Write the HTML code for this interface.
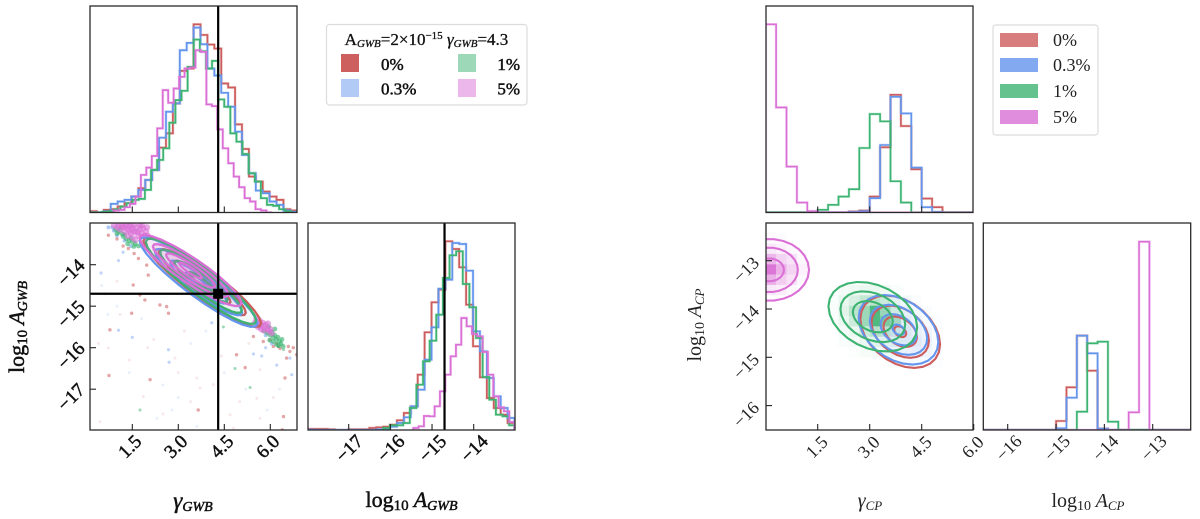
<!DOCTYPE html>
<html lang="en">
<head>
<meta charset="utf-8">
<title>GWB and CP posterior corner plots</title>
<style>
html,body{margin:0;padding:0;background:#fff;width:1200px;height:519px;overflow:hidden}
svg{display:block;font-family:"Liberation Serif",serif}
.heavy{fill:#111;stroke:#111;stroke-width:.5px}
.light{fill:#222}
</style>
</head>
<body>
<svg id="chart" xmlns="http://www.w3.org/2000/svg" width="1200" height="519" viewBox="0 0 1200 519">
<rect width="1200" height="519" fill="#fff"/>
<defs id="defs"></defs>
<g id="plots"></g>

<text class="heavy" x="193" y="508" text-anchor="middle" font-size="23" font-style="italic">γ<tspan font-size="14" dy="3">GWB</tspan></text>
<text class="heavy" transform="translate(24,327) rotate(-90)" text-anchor="middle" font-size="22">log<tspan font-size="15" dy="3">10</tspan><tspan font-style="italic" dy="-3"> A</tspan><tspan font-style="italic" font-size="14" dy="3">GWB</tspan></text>
<text class="heavy" x="411.5" y="507" text-anchor="middle" font-size="22">log<tspan font-size="15" dy="3">10</tspan><tspan font-style="italic" dy="-3"> A</tspan><tspan font-style="italic" font-size="14" dy="3">GWB</tspan></text>
<text class="light" x="870" y="507" text-anchor="middle" font-size="20" font-style="italic">γ<tspan font-size="13" dy="3">CP</tspan></text>
<text class="light" transform="translate(701,325) rotate(-90)" text-anchor="middle" font-size="20">log<tspan font-size="14" dy="3">10</tspan><tspan font-style="italic" dy="-3"> A</tspan><tspan font-style="italic" font-size="13" dy="3">CP</tspan></text>
<text class="light" x="1088" y="507" text-anchor="middle" font-size="20">log<tspan font-size="14" dy="3">10</tspan><tspan font-style="italic" dy="-3"> A</tspan><tspan font-style="italic" font-size="13" dy="3">CP</tspan></text>

<g>
<rect x="326.5" y="24.5" width="200.5" height="80.5" rx="3" fill="#fff" stroke="#dcdcdc" stroke-width="1.2"/>
<text class="heavy" x="426.5" y="45" text-anchor="middle" font-size="17" style="stroke-width:.3px">A<tspan font-style="italic" font-size="11" dy="2">GWB</tspan><tspan dy="-2">=2×10</tspan><tspan font-size="11" dy="-6">−15</tspan><tspan font-style="italic" dy="6"> γ</tspan><tspan font-style="italic" font-size="11" dy="2">GWB</tspan><tspan dy="-2">=4.3</tspan></text>
<rect x="341" y="54" width="18" height="18" fill="#cd5c5c" fill-opacity=".98"/>
<rect x="341" y="79" width="18" height="18" fill="#6495ed" fill-opacity=".5"/>
<rect x="458" y="54" width="18" height="18" fill="#3cb371" fill-opacity=".5"/>
<rect x="458" y="79" width="18" height="18" fill="#da70d6" fill-opacity=".5"/>
<text class="heavy" x="381" y="70" font-size="17">0%</text>
<text class="heavy" x="381" y="94.5" font-size="17">0.3%</text>
<text class="heavy" x="520" y="70" text-anchor="end" font-size="17">1%</text>
<text class="heavy" x="520" y="94.5" text-anchor="end" font-size="17">5%</text>
</g>

<g>
<rect x="993" y="25" width="105" height="110" rx="3" fill="#fff" stroke="#dcdcdc" stroke-width="1.2"/>
<rect x="1000" y="33" width="38" height="14" fill="#cd5c5c" fill-opacity=".8"/>
<rect x="1000" y="58" width="38" height="14" fill="#6495ed" fill-opacity=".8"/>
<rect x="1000" y="84" width="38" height="14" fill="#3cb371" fill-opacity=".8"/>
<rect x="1000" y="110" width="38" height="14" fill="#da70d6" fill-opacity=".8"/>
<text class="light" x="1053" y="46" font-size="18">0%</text>
<text class="light" x="1053" y="71" font-size="18">0.3%</text>
<text class="light" x="1053" y="97" font-size="18">1%</text>
<text class="light" x="1053" y="123" font-size="18">5%</text>
</g>
</svg>

<script>
// ---- series colours ----
const RED = '#cd5c5c', BLUE = '#6495ed', GREEN = '#3cb371', PINK = '#da70d6';

// ---- tick labels ----
const gammaTicksLeft = [1.5, 3.0, 4.5, 6.0];
const logTicksLeft = [-14, -15, -16, -17];
const logTicksMiddle = [-17, -16, -15, -14];
const gammaTicksRight = [1.5, 3.0, 4.5, 6.0];
const logTicksRight = [-13, -14, -15, -16];
const logTicksCorner = [-16, -15, -14, -13];

// ---- injected truth ----
const truthGamma = 4.3;
const truthLogA = -14.7;

// ---- GWB gamma histograms (first bin edge, bin width, counts) ----
const gwbGammaRedStart = 0.12, gwbGammaRedWidth = 0.2253;
const gwbGammaRed = [4,0,8,10,18,28,48,73,98,128,195,238,328,426,433,566,534,505,493,388,376,265,191,108,93,63,48,38,10,6];
const gwbGammaBlueStart = 0.12, gwbGammaBlueWidth = 0.2253;
const gwbGammaBlue = [0,0,4,26,33,38,48,68,98,128,225,303,328,488,510,556,506,433,412,360,318,243,173,118,66,58,33,23,6,2];
const gwbGammaGreenStart = 0.12, gwbGammaGreenWidth = 0.199;
const gwbGammaGreen = [0,0,2,4,10,18,28,38,41,68,128,158,193,270,338,366,438,520,485,433,456,340,318,238,213,176,118,93,43,23,20,10,3];
const gwbGammaPinkStart = 0.89, gwbGammaPinkWidth = 0.178;
const gwbGammaPink = [6,8,16,26,48,113,135,170,253,368,330,373,408,433,436,488,483,325,320,250,193,148,108,76,43,33,10,6,0];

// ---- GWB log-amplitude histograms ----
const gwbLogRedStart = -18, gwbLogRedWidth = 0.166;
const gwbLogRed = [3,3,3,2,0,0,2,2,2,6,8,10,16,29,51,71,166,293,383,421,566,543,488,376,251,158,96,66,46,21];
const gwbLogBlueStart = -18, gwbLogBlueWidth = 0.166;
const gwbLogBlue = [1,0,0,0,0,0,0,0,0,0,2,4,10,21,38,71,121,211,308,424,451,561,558,478,296,236,156,101,66,36];
const gwbLogGreenStart = -16.17, gwbLogGreenWidth = 0.159;
const gwbLogGreen = [6,14,14,21,66,136,206,268,346,456,524,536,438,368,276,159,91,46,41,14];
const gwbLogPinkStart = -15.45, gwbLogPinkWidth = 0.128;
const gwbLogPink = [6,11,42,41,71,116,166,221,256,336,311,288,281,234,166,101,68,56,24];

// ---- CP gamma histograms ----
const cpGammaStart = 0, cpGammaWidth = 0.3;
const cpGammaRed = [0,0,0,0,0,0,0,0,3,6,48,196,354,260,130,42,16,0,0,0];
const cpGammaBlue = [0,0,0,0,0,0,0,0,2,4,43,203,348,298,135,16,2,0,0,0];
const cpGammaGreen = [0,0,0,0,0,8,23,48,70,194,296,274,94,30,0,0,0,0,0,0];
const cpGammaPink = [566,316,138,30,4,0,0,0,0,0,0,0,0,0,0,0,0,0,0,0];

// ---- CP log-amplitude histograms ----
const cpLogStart = -16.5, cpLogWidth = 0.2145;
const cpLogRed = [0,0,0,0,0,0,0,27,128,283,178,4,0,0,0,0,0,0,0,0];
const cpLogBlue = [0,0,0,0,0,0,0,5,97,283,230,4,0,0,0,0,0,0,0,0];
const cpLogGreen = [0,0,0,0,0,0,0,0,0,55,260,265,25,0,0,0,0,0,0,0];
const cpLogPink = [0,0,0,0,0,0,0,0,0,0,0,0,0,0,53,565,0,0,0,0];

// ---- GWB 2D contours: [centre gamma, centre logA, gamma extent, logA extent, correlation] ----
const gwbContourRed = [3.78, -14.42, 1.92, 1.08, -0.92];
const gwbContourBlue = [3.66, -14.42, 1.92, 1.08, -0.92];
const gwbContourGreen = [3.74, -14.40, 1.80, 1.03, -0.92];
const gwbContourPink = [3.40, -14.14, 1.66, 0.86, -0.91];
const gwbLevels = [1, 0.74, 0.48, 0.22];

// ---- CP 2D contours ----
const cpContourRed = [3.88, -14.47, 1.15, 0.75, -0.35];
const cpContourBlue = [3.83, -14.43, 1.15, 0.72, -0.35];
const cpContourGreen = [3.09, -14.16, 1.28, 0.72, -0.3];
const cpContourPink = [0.10, -13.19, 1.15, 0.64, 0];
const cpLevelsRed = [1, 0.72, 0.42, 0.15];
const cpLevelsBlue = [1, 0.72, 0.45, 0.15];
const cpLevelsGreen = [1, 0.73, 0.45];
const cpLevelsPink = [1, 0.72, 0.37];

// ---- GWB scatter samples [gamma, logA] ----
const scatterRed = [[0.72,-13.29],[1.37,-13.61],[1.56,-13.73],[1.70,-13.85],[1.97,-14.01],[2.02,-14.25],[1.53,-14.49],[1.91,-14.85],[1.48,-15.17],[2.68,-15.17],[0.77,-15.57],[0.74,-16.67],[2.08,-16.77],[3.65,-17.50],[5.18,-16.48],[6.43,-17.66],[6.39,-17.98],[4.90,-16.17],[6.10,-15.97],[6.26,-15.97],[6.59,-15.97],[6.64,-16.09],[6.86,-16.17],[6.53,-16.25],[5.99,-15.81],[5.77,-15.85],[5.45,-15.73],[6.48,-16.73],[2.62,-15.01],[2.40,-14.97],[1.75,-14.73],[1.0,-13.38],[1.2,-13.55],[6.20,-15.90],[6.32,-16.02],[6.75,-16.0]];
const scatterBlue = [[2.70,-16.35],[1.50,-15.75],[1.05,-15.58],[4.09,-15.40],[5.72,-16.20],[6.21,-16.42],[6.70,-16.65],[6.64,-16.25],[5.45,-16.15],[2.68,-16.05],[1.05,-13.9],[0.48,-14.2],[5.85,-16.0],[1.2,-13.7]];
const scatterGreen = [[5.34,-16.96],[4.85,-16.50],[6.43,-16.05],[6.26,-15.97],[4.47,-15.50],[1.59,-13.45],[1.21,-13.25],[1.75,-17.5]];
const scatterPink = [[0.9,-13.05],[1.0,-13.1],[1.05,-13.05],[1.1,-13.15],[1.15,-13.05],[1.2,-13.1],[1.25,-13.2],[1.3,-13.05],[1.35,-13.15],[1.4,-13.08],[1.45,-13.25],[1.5,-13.12],[1.55,-13.05],[1.6,-13.2],[1.65,-13.1],[1.7,-13.3],[1.75,-13.15],[1.8,-13.25],[1.85,-13.12],[1.9,-13.3],[1.35,-13.3],[1.5,-13.35],[1.6,-13.4],[1.45,-13.05],[1.75,-13.05],[1.95,-13.2],[2.0,-13.3],[1.25,-13.08],[1.55,-13.2],[1.68,-13.22],[1.82,-13.05],[1.98,-13.1],[1.42,-13.18],[5.55,-15.3],[5.6,-15.4],[5.65,-15.35],[5.7,-15.45],[5.75,-15.4],[5.8,-15.5],[5.85,-15.45],[5.9,-15.55],[5.95,-15.6],[6.0,-15.55],[5.7,-15.55],[5.6,-15.5],[6.05,-15.65],[5.78,-15.58],[5.92,-15.42],[5.5,-15.4]];
const scatterGreenDense = [[0.95,-13.15],[1.05,-13.2],[1.15,-13.25],[1.2,-13.32],[1.3,-13.38],[1.4,-13.42],[1.5,-13.45],[1.6,-13.5],[1.1,-13.12],[1.0,-13.25],[1.35,-13.5],[1.7,-13.55],[1.25,-13.28],[1.45,-13.36],[1.55,-13.56],[5.8,-15.6],[5.9,-15.65],[6.0,-15.7],[6.05,-15.62],[6.1,-15.75],[6.15,-15.7],[6.2,-15.8],[6.25,-15.75],[6.3,-15.85],[6.35,-15.9],[6.2,-15.92],[6.1,-15.85],[5.95,-15.5],[6.15,-15.55],[6.42,-15.97],[6.28,-15.95],[6.38,-15.8],[5.98,-15.82]];
const scatterBlueDense = [[0.72,-13.1],[0.85,-13.1],[1.0,-13.3],[1.25,-13.42],[1.45,-13.55],[0.9,-13.18],[5.65,-15.5],[5.85,-15.7],[6.05,-15.9]];
const scatterRedFaint = [[0.72,-16.01],[1.86,-17.18],[0.45,-17.78],[3.71,-16.97],[5.66,-16.53],[4.80,-17.94],[5.56,-17.22],[2.89,-16.25],[3.60,-16.73],[4.14,-16.89],[5.66,-17.70],[4.69,-17.62],[1.1,-15.2],[0.4,-15.9],[1.4,-16.3],[2.2,-15.8],[3.2,-15.6],[3.4,-17.3],[2.5,-17.6],[4.4,-16.2],[5.0,-17.3],[6.1,-17.2],[0.6,-14.7],[1.0,-14.4],[3.0,-16.6],[5.3,-15.9],[2.0,-16.0]];
const scatterBlueFaint = [[0.5,-14.5],[1.0,-15.0],[1.8,-15.3],[2.5,-16.9],[3.0,-17.2],[2.3,-17.7],[3.1,-18.0],[0.7,-15.2],[1.4,-16.6],[3.4,-15.9],[4.5,-16.6],[5.2,-17.0],[5.9,-17.5],[2.8,-17.5],[3.6,-17.9],[6.3,-17.0],[3.9,-15.6]];

// ---- CP filled 2D density cells (rows top to bottom, first col/row index, shading) ----
const cellSize = 0.3, cellSizeLog = 0.2145;
const pinkCellCol = 0, pinkCellRow = 1;
const pinkCells = [[.03,.03,0,0],[.15,.1,.05,0],[.5,.3,.2,.05],[.95,.55,.3,.1],[.55,.35,.2,.05],[.15,.12,.05,0]];
const greenCellCol = 6, greenCellRow = 6;
const greenCells = [[0,.05,.08,.1,.1,.08,.03,0],[.03,.1,.2,.3,.35,.25,.1,.03],[.03,.15,.35,.5,.9,.5,.2,.05],[.02,.1,.25,.5,.9,.65,.4,.05],[0,.05,.1,.25,.35,.3,.15,.05],[0,.03,.05,.1,.12,.1,.08,.03],[0,0,.02,.04,.05,.05,.03,0]];
const blueCellCol = 10, blueCellRow = 7;
const blueCells = [[0,.03,.05,.05,.03,0,0],[0,.05,.08,.1,.08,.03,0],[.03,.1,.15,.15,.12,.05,.02],[.05,.1,.2,.2,.15,.1,.03],[.03,.08,.15,.2,.2,.12,.05],[0,.03,.08,.12,.15,.1,.04],[0,0,.03,.05,.05,.04,.02]];

// ---- layout and axis functions ----
const SVGNS = 'http://www.w3.org/2000/svg';
const root = document.getElementById('plots');
const defs = document.getElementById('defs');
const histMax = 621;

function linear(d0, d1, r0, r1) { return v => r0 + (v - d0) * (r1 - r0) / (d1 - d0); }
const L1 = 90, R1 = 297, L2 = 308, R2 = 515, L3 = 766, R3 = 973, L4 = 983.3, R4 = 1190.7;
const T1 = 6, B1 = 212.5, T2 = 223, B2 = 430;
const xGammaL = linear(1.5, 6.0, 132.3, 270.3);
const yLogL = linear(-14, -17, 264.7, 389.2);
const xLogM = linear(-17, -14, 348.7, 473.7);
const xGammaR = linear(0, 6, 765.7, 973.7);
const yLogR = linear(-13, -16, 260.7, 405.6);
const xLogC = linear(-16, -13, 1007.7, 1152.7);
const yHistTop = linear(0, histMax, B1, T1);
const yHistBot = linear(0, histMax, B2, T2);

function mk(tag, attrs, parent) {
  const el = document.createElementNS(SVGNS, tag);
  for (const k in attrs) el.setAttribute(k, attrs[k]);
  (parent || root).appendChild(el);
  return el;
}

function panel(name, x0, y0, x1, y1) {
  const clip = mk('clipPath', { id: 'clip-' + name }, defs);
  mk('rect', { x: x0, y: y0, width: x1 - x0, height: y1 - y0 }, clip);
  const g = mk('g', {});
  
  
  const inner = mk('g', { 'clip-path': 'url(#clip-' + name + ')' }, g);
  
  
  return { g, inner, x0, y0, x1, y1, name };
}

function frame(p) {
  const r = mk('rect', { x: p.x0, y: p.y0, width: p.x1 - p.x0, height: p.y1 - p.y0, fill: 'none', stroke: '#2a2a2a', 'stroke-width': 1.3 }, p.g);
  
  
}

function hist(p, values, start, width, xs, ys, color, label, sw) {
  let d = 'M' + xs(start) + ' ' + ys(0);
  values.forEach((v, i) => {
    d += 'L' + xs(start + i * width) + ' ' + ys(v) + 'L' + xs(start + (i + 1) * width) + ' ' + ys(v);
  });
  d += 'L' + xs(start + values.length * width) + ' ' + ys(0);
  const halo = mk('path', { d, fill: 'none', stroke: color, 'stroke-width': sw + 1.2, 'stroke-opacity': .25 }, p.inner);
  
  
  const path = mk('path', { d, fill: 'none', stroke: color, 'stroke-width': sw }, p.inner);
  
  
}

function ellipsePath(c, f, xs, ys, steps) {
  let d = '';
  const s = Math.sqrt(1 - c[4] * c[4]);
  for (let i = 0; i < steps; i++) {
    const t = 2 * Math.PI * i / steps;
    const gx = c[0] + c[2] * f * Math.cos(t);
    const gy = c[1] + c[3] * f * (c[4] * Math.cos(t) + s * Math.sin(t));
    d += (i ? 'L' : 'M') + xs(gx).toFixed(2) + ' ' + ys(gy).toFixed(2);
  }
  return d + 'Z';
}

function contours(p, c, levels, xs, ys, color, label, fillOp, sw) {
  levels.forEach((f, i) => {
    const path = mk('path', { d: ellipsePath(c, f, xs, ys, 26), fill: fillOp ? color : 'none', 'fill-opacity': fillOp, stroke: color, 'stroke-width': sw, 'stroke-linejoin': 'round' }, p.inner);
    
    
  });
}

function scatter(p, pts, xs, ys, color, op, r, label) {
  pts.forEach(pt => {
    const c = mk('circle', { cx: xs(pt[0]), cy: ys(pt[1]), r, fill: color, 'fill-opacity': op }, p.inner);
    
    
  });
}

function cells(p, rows, col0, row0, color, label) {
  rows.forEach((row, r) => row.forEach((v, k) => {
    if (!v) return;
    const gx = (col0 + k) * cellSize;
    const top = -12.2145 - (row0 + r) * cellSizeLog;
    const x = xGammaR(gx), y = yLogR(top);
    const c = mk('rect', { x, y, width: xGammaR(gx + cellSize) - x, height: yLogR(top - cellSizeLog) - y, fill: color, 'fill-opacity': v }, p.inner);
    
    
  }));
}

function vLine(p, x, label) {
  const l = mk('line', { x1: x, x2: x, y1: p.y0, y2: p.y1, stroke: '#000', 'stroke-width': 2.2 }, p.g);
  
  
}
function hLine(p, y, label) {
  const l = mk('line', { x1: p.x0, x2: p.x1, y1: y, y2: y, stroke: '#000', 'stroke-width': 2.2 }, p.g);
  
  
}

function fmt(v) { return v < 0 ? '\u2212' + Math.abs(v) : v.toFixed(1); }

function xTicks(p, ticks, xs, labelY, cls, size, showLabel, dx) {
  ticks.forEach(v => {
    const x = xs(v);
    const t = mk('line', { x1: x, x2: x, y1: p.y1, y2: p.y1 - 6, stroke: '#222', 'stroke-width': 1.1 }, p.g);
    
    
    if (showLabel) {
      const tx = x + dx;
      const lab = mk('text', { x: tx, y: labelY, 'text-anchor': 'middle', 'dominant-baseline': 'central', 'font-size': size, class: cls, transform: 'rotate(-45 ' + tx + ' ' + labelY + ')' }, p.g);
      lab.textContent = fmt(v);
      
      
    }
  });
}

function yTicks(p, ticks, ys, labelX, cls, size, dy) {
  ticks.forEach(v => {
    const y = ys(v);
    const t = mk('line', { x1: p.x0, x2: p.x0 + 6, y1: y, y2: y, stroke: '#222', 'stroke-width': 1.1 }, p.g);
    
    
    const ly = y + dy;
    const lab = mk('text', { x: labelX, y: ly, 'text-anchor': 'middle', 'dominant-baseline': 'central', 'font-size': size, class: cls, transform: 'rotate(-45 ' + labelX + ' ' + ly + ')' }, p.g);
    lab.textContent = fmt(v);
    
    
  });
}

// ---- panel: GWB gamma histogram ----
const p1 = panel('gwb-gamma-histogram', L1, T1, R1, B1);
hist(p1, gwbGammaRed, gwbGammaRedStart, gwbGammaRedWidth, xGammaL, yHistTop, RED, 'gwb-gamma-hist-0pct', 1.7);
hist(p1, gwbGammaBlue, gwbGammaBlueStart, gwbGammaBlueWidth, xGammaL, yHistTop, BLUE, 'gwb-gamma-hist-0-3pct', 1.7);
hist(p1, gwbGammaGreen, gwbGammaGreenStart, gwbGammaGreenWidth, xGammaL, yHistTop, GREEN, 'gwb-gamma-hist-1pct', 1.7);
hist(p1, gwbGammaPink, gwbGammaPinkStart, gwbGammaPinkWidth, xGammaL, yHistTop, PINK, 'gwb-gamma-hist-5pct', 1.7);
vLine(p1, xGammaL(truthGamma), 'gwb-gamma-truth-line');
xTicks(p1, gammaTicksLeft.slice(0, 3), xGammaL, 0, 'heavy', 18, false, 0);
frame(p1);

// ---- panel: GWB 2D ----
const p2 = panel('gwb-joint-posterior', L1, T2, R1, B2);
scatter(p2, scatterRedFaint, xGammaL, yLogL, RED, .14, 1.5, 'sample-0pct');
scatter(p2, scatterBlueFaint, xGammaL, yLogL, BLUE, .14, 1.5, 'sample-0-3pct');
scatter(p2, scatterRed, xGammaL, yLogL, RED, .55, 1.7, 'sample-0pct');
scatter(p2, scatterBlue, xGammaL, yLogL, BLUE, .4, 1.6, 'sample-0-3pct');
scatter(p2, scatterGreen, xGammaL, yLogL, GREEN, .5, 1.5, 'sample-1pct');
scatter(p2, scatterBlueDense, xGammaL, yLogL, BLUE, .5, 2, 'sample-0-3pct');
scatter(p2, scatterGreenDense, xGammaL, yLogL, GREEN, .65, 2.4, 'sample-1pct');
scatter(p2, scatterPink, xGammaL, yLogL, PINK, .6, 3.2, 'sample-5pct');
contours(p2, gwbContourRed, gwbLevels, xGammaL, yLogL, RED, 'gwb-0pct', .02, 2.3);
contours(p2, gwbContourBlue, gwbLevels, xGammaL, yLogL, BLUE, 'gwb-0-3pct', .02, 2.3);
contours(p2, gwbContourGreen, gwbLevels, xGammaL, yLogL, GREEN, 'gwb-1pct', .03, 2.3);
contours(p2, gwbContourPink, gwbLevels, xGammaL, yLogL, PINK, 'gwb-5pct', .1, 2.3);
vLine(p2, xGammaL(truthGamma), 'gwb-joint-truth-gamma-line');
hLine(p2, yLogL(truthLogA), 'gwb-joint-truth-amplitude-line');
const truthMark = mk('rect', { x: xGammaL(truthGamma) - 5, y: yLogL(truthLogA) - 5, width: 10, height: 10, fill: '#000' }, p2.g);


xTicks(p2, gammaTicksLeft, xGammaL, 447, 'heavy', 19, true, -2);
yTicks(p2, logTicksLeft, yLogL, 71.5, 'heavy', 19, 8.5);
frame(p2);

// ---- panel: GWB amplitude histogram ----
const p3 = panel('gwb-amplitude-histogram', L2, T2, R2, B2);
hist(p3, gwbLogRed, gwbLogRedStart, gwbLogRedWidth, xLogM, yHistBot, RED, 'gwb-amp-hist-0pct', 1.7);
hist(p3, gwbLogBlue, gwbLogBlueStart, gwbLogBlueWidth, xLogM, yHistBot, BLUE, 'gwb-amp-hist-0-3pct', 1.7);
hist(p3, gwbLogGreen, gwbLogGreenStart, gwbLogGreenWidth, xLogM, yHistBot, GREEN, 'gwb-amp-hist-1pct', 1.7);
hist(p3, gwbLogPink, gwbLogPinkStart, gwbLogPinkWidth, xLogM, yHistBot, PINK, 'gwb-amp-hist-5pct', 1.7);
vLine(p3, xLogM(truthLogA), 'gwb-amp-truth-line');
xTicks(p3, logTicksMiddle, xLogM, 449, 'heavy', 19, true, 1);
frame(p3);

// ---- panel: CP gamma histogram ----
const p4 = panel('cp-gamma-histogram', L3, T1, R3, B1);
hist(p4, cpGammaRed, cpGammaStart, cpGammaWidth, xGammaR, yHistTop, RED, 'cp-gamma-hist-0pct', 1.6);
hist(p4, cpGammaBlue, cpGammaStart, cpGammaWidth, xGammaR, yHistTop, BLUE, 'cp-gamma-hist-0-3pct', 1.6);
hist(p4, cpGammaGreen, cpGammaStart, cpGammaWidth, xGammaR, yHistTop, GREEN, 'cp-gamma-hist-1pct', 1.6);
hist(p4, cpGammaPink, cpGammaStart, cpGammaWidth, xGammaR, yHistTop, PINK, 'cp-gamma-hist-5pct', 1.6);
xTicks(p4, gammaTicksRight.slice(0, 3), xGammaR, 0, 'light', 18, false, 0);
frame(p4);

// ---- panel: CP 2D ----
const p5 = panel('cp-joint-posterior', L3, T2, R3, B2);
cells(p5, blueCells, blueCellCol, blueCellRow, BLUE, 'cp-density-cell-0-3pct');
cells(p5, greenCells, greenCellCol, greenCellRow, GREEN, 'cp-density-cell-1pct');
cells(p5, pinkCells, pinkCellCol, pinkCellRow, PINK, 'cp-density-cell-5pct');
contours(p5, cpContourRed, cpLevelsRed, xGammaR, yLogR, RED, 'cp-0pct', 0, 2.1);
contours(p5, cpContourBlue, cpLevelsBlue, xGammaR, yLogR, BLUE, 'cp-0-3pct', 0, 2.1);
contours(p5, cpContourGreen, cpLevelsGreen, xGammaR, yLogR, GREEN, 'cp-1pct', 0, 2.1);
contours(p5, cpContourPink, cpLevelsPink, xGammaR, yLogR, PINK, 'cp-5pct', 0, 2.1);
xTicks(p5, gammaTicksRight, xGammaR, 447, 'light', 18, true, -1);
yTicks(p5, logTicksRight, yLogR, 746, 'light', 18, 9);
frame(p5);

// ---- panel: CP amplitude histogram ----
const p6 = panel('cp-amplitude-histogram', L4, T2, R4, B2);
hist(p6, cpLogRed, cpLogStart, cpLogWidth, xLogC, yHistBot, RED, 'cp-amp-hist-0pct', 1.6);
hist(p6, cpLogBlue, cpLogStart, cpLogWidth, xLogC, yHistBot, BLUE, 'cp-amp-hist-0-3pct', 1.6);
hist(p6, cpLogGreen, cpLogStart, cpLogWidth, xLogC, yHistBot, GREEN, 'cp-amp-hist-1pct', 1.6);
hist(p6, cpLogPink, cpLogStart, cpLogWidth, xLogC, yHistBot, PINK, 'cp-amp-hist-5pct', 1.6);
xTicks(p6, logTicksCorner, xLogC, 448, 'light', 18, true, 1);
frame(p6);
</script>
</body>
</html>
